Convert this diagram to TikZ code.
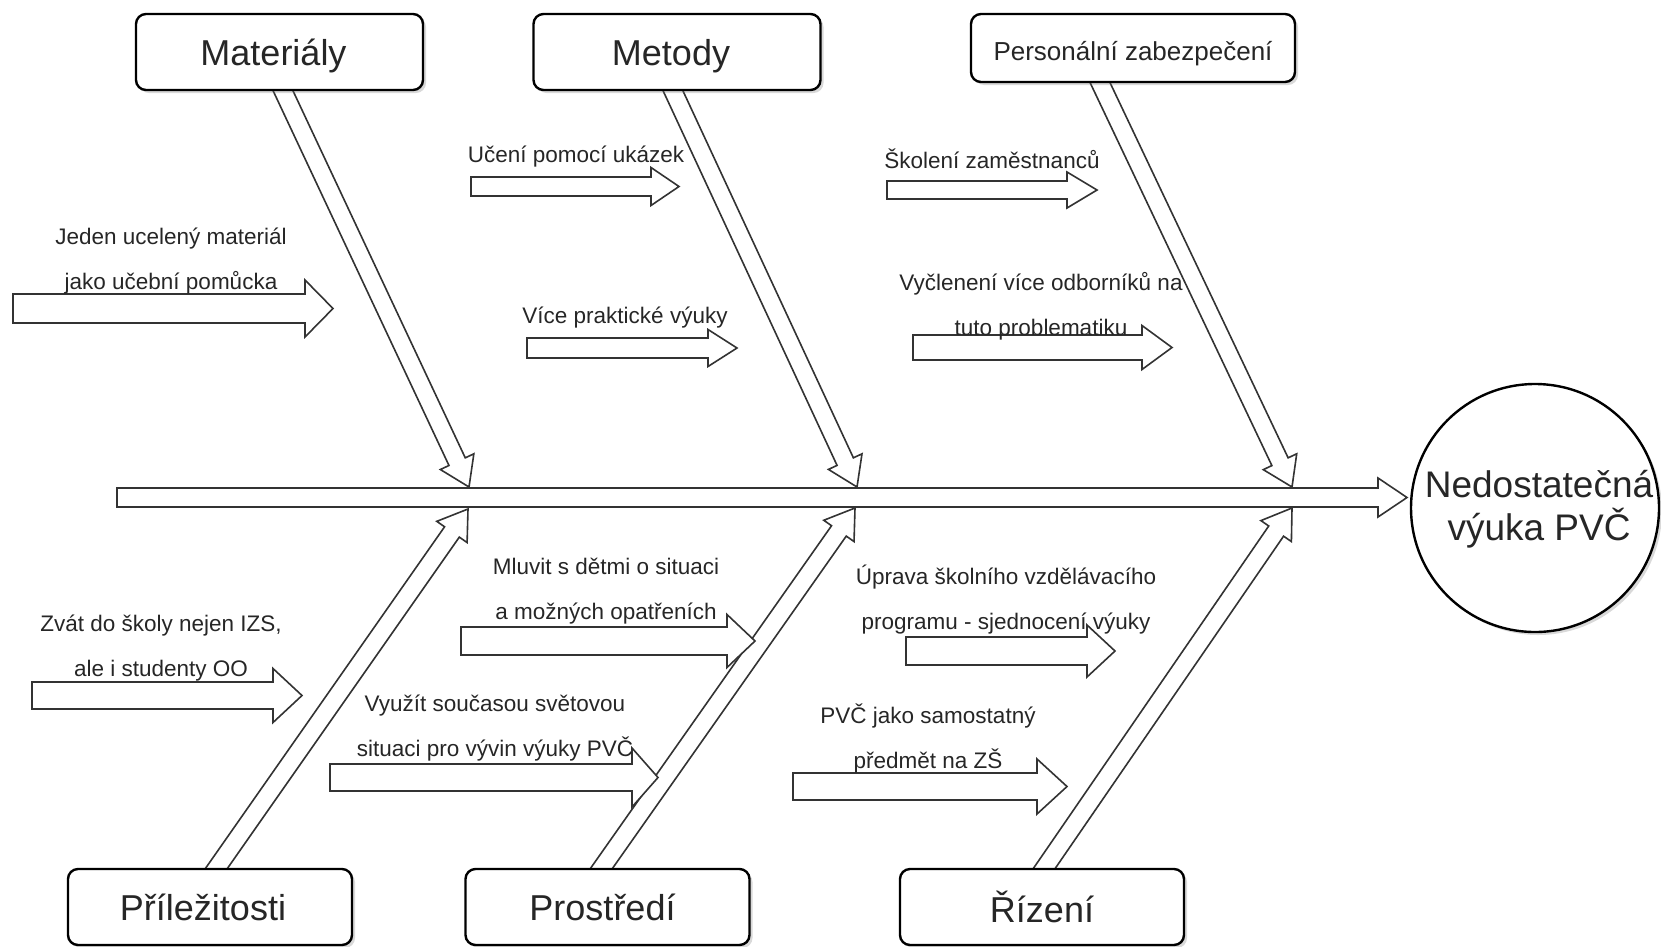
\documentclass[tikz,border=0pt]{standalone}
\usepackage{fontspec}
\setmainfont{Liberation Sans}
\usetikzlibrary{calc,shadows}
\definecolor{txt}{HTML}{262626}
\definecolor{ln}{HTML}{333333}
\tikzset{
  box/.style={draw=black, line width=2.4pt, rounded corners=10pt, fill=white, text=txt, inner sep=0pt,
    drop shadow={opacity=0.3, shadow xshift=3pt, shadow yshift=-3pt}},
  bigtxt/.style={font=\fontsize{36}{43}\selectfont},
  barr/.style={draw=ln, line width=1.6pt, fill=white, line join=miter},
  lbl/.style={text=txt, align=center, inner sep=0pt, font=\fontsize{22.5}{45}\selectfont},
}
\newcommand\blockarr[5]{%
  \coordinate (bh) at ($(#2)!#5!(#1)$);
  \draw[barr] ($(#1)!#3!90:(#2)$) -- ($(bh)!#3!90:(#2)$) -- ($(bh)!#4!90:(#2)$) -- (#2)
    -- ($(bh)!#4!-90:(#2)$) -- ($(bh)!#3!-90:(#2)$) -- ($(#1)!#3!-90:(#2)$) -- cycle;
}
% shift text inside a node: #1 horizontal (negative = left), #2 vertical (negative = down)
\newcommand\shiftedtext[3]{\kern#1\raisebox{#2}[\height][\depth]{#3}\kern-#1}
\begin{document}
\begin{tikzpicture}[x=1pt,y=-1pt]
\useasboundingbox (0,0) rectangle (1661,946);

% coordinates
\coordinate (spL) at (117,497.5);
\coordinate (spR) at (1407,497.5);
\coordinate (mS) at (278,80);   \coordinate (mT) at (469,487);
\coordinate (meS) at (668,80);  \coordinate (meT) at (857,487);
\coordinate (peS) at (1095,72); \coordinate (peT) at (1292,487);
\coordinate (prS) at (209,879); \coordinate (prT) at (468,509);
\coordinate (psS) at (594,879); \coordinate (psT) at (855,508);
\coordinate (rzS) at (1037,879);\coordinate (rzT) at (1292,508);

% spine
\blockarr{spL}{spR}{9.5pt}{19.5pt}{29pt}

% bones
\blockarr{mS}{mT}{9pt}{18.5pt}{28pt}
\blockarr{meS}{meT}{9pt}{18.5pt}{28pt}
\blockarr{peS}{peT}{9pt}{18.5pt}{28pt}
\blockarr{prS}{prT}{9pt}{18.5pt}{28pt}
\blockarr{psS}{psT}{9pt}{18.5pt}{28pt}
\blockarr{rzS}{rzT}{9pt}{18.5pt}{28pt}

% small arrows
\coordinate (a1) at (13,308.5);  \coordinate (b1) at (333,308.5);
\coordinate (a2) at (471,186.5); \coordinate (b2) at (679,186.5);
\coordinate (a3) at (527,348);   \coordinate (b3) at (737,348);
\coordinate (a4) at (887,190);   \coordinate (b4) at (1097,190);
\coordinate (a5) at (913,347.5); \coordinate (b5) at (1172,347.5);
\coordinate (a6) at (32,695.5);  \coordinate (b6) at (302,695.5);
\coordinate (a7) at (461,641);   \coordinate (b7) at (755,641);
\coordinate (a8) at (330,777.5); \coordinate (b8) at (658,777.5);
\coordinate (a9) at (906,651);   \coordinate (b9) at (1115,651);
\coordinate (a10) at (793,786.5);\coordinate (b10) at (1067,786.5);
\blockarr{a1}{b1}{14.5pt}{28.5pt}{28pt}
\blockarr{a2}{b2}{9.5pt}{19pt}{28pt}
\blockarr{a3}{b3}{10pt}{18.5pt}{29pt}
\blockarr{a4}{b4}{9pt}{18pt}{30pt}
\blockarr{a5}{b5}{12.5pt}{22pt}{30pt}
\blockarr{a6}{b6}{13.5pt}{27pt}{29pt}
\blockarr{a7}{b7}{14pt}{26.5pt}{28pt}
\blockarr{a8}{b8}{13.5pt}{29.5pt}{26pt}
\blockarr{a9}{b9}{14pt}{26pt}{28pt}
\blockarr{a10}{b10}{13.5pt}{27.5pt}{30pt}

% labels
\node[lbl] (l1) at (171,261) {Jeden ucelený materiál\\jako učební pomůcka};
\node[lbl] (l2) at (576,157) {Učení pomocí ukázek};
\node[lbl] (l3) at (625,318) {Více praktické výuky};
\node[lbl] (l4) at (992,159) {Školení zaměstnanců};
\node[lbl] (l5) at (1041,306.5) {Vyčlenení více odborníků na\\tuto problematiku};
\node[lbl] (l6) at (161,648) {Zvát do školy nejen IZS,\\ale i studenty OO};
\node[lbl] (l7) at (606,591.5) {Mluvit s dětmi o situaci\\a možných opatřeních};
\node[lbl] (l8) at (495,728) {Využít současou světovou\\situaci pro vývin výuky PVČ};
\node[lbl] (l9) at (1006,600) {Úprava školního vzdělávacího\\programu - sjednocení výuky};
\node[lbl] (l10) at (928,738) {PVČ jako samostatný\\předmět na ZŠ};

% category boxes
\node[box, bigtxt, minimum width=287pt, minimum height=76pt] (mat) at (279.5,52) {\shiftedtext{-6pt}{-4pt}{Materiály}};
\node[box, bigtxt, minimum width=287pt, minimum height=76pt] (met) at (677,52) {\shiftedtext{-6pt}{-4pt}{Metody}};
\node[box, font=\fontsize{26}{31}\selectfont, minimum width=324pt, minimum height=68pt] (pers) at (1133,48) {\shiftedtext{0pt}{-6pt}{Personální zabezpečení}};
\node[box, bigtxt, minimum width=284pt, minimum height=76pt] (pril) at (210,907) {\shiftedtext{-7pt}{0pt}{Příležitosti}};
\node[box, bigtxt, minimum width=284pt, minimum height=76pt] (pros) at (607.5,907) {\shiftedtext{-5pt}{0pt}{Prostředí}};
\node[box, bigtxt, minimum width=284pt, minimum height=76pt] (riz) at (1042,907) {Řízení};

% effect
\node[circle, draw=black, line width=2.4pt, fill=white, text=txt, minimum size=248pt, inner sep=0pt,
  align=center, font=\fontsize{37}{43}\selectfont,
  drop shadow={opacity=0.3, shadow xshift=3pt, shadow yshift=-3pt}] (res) at (1535,508) {\shiftedtext{4pt}{-1pt}{Nedostatečná}\\\shiftedtext{4pt}{-1pt}{výuka PVČ}};
\end{tikzpicture}
\end{document}
